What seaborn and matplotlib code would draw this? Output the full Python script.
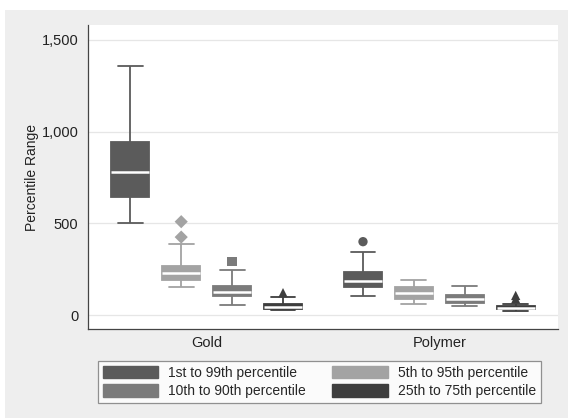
import numpy as np
import pandas as pd
import matplotlib.pyplot as plt
import matplotlib.ticker as mticker
from matplotlib.patches import Patch, Rectangle
import seaborn as sns

# groups and percentile ranges (in drawing order)
groups = ['Gold', 'Polymer']
ranges = ['1st to 99th percentile', '5th to 95th percentile',
          '10th to 90th percentile', '25th to 75th percentile']
colors = ['#5b5b5b', '#a3a3a3', '#7b7b7b', '#3e3e3e']
markers = ['o', 'D', 's', '^']

# five-number summaries per box (lower whisker, q1, median, q3, upper whisker)
gold_lo = [502, 151, 55, 26]
gold_q1 = [643, 191, 102, 35]
gold_med = [781, 227, 124, 44]
gold_q3 = [945, 269, 160, 60]
gold_hi = [1356, 387, 245, 96]

poly_lo = [105, 60, 49, 22]
poly_q1 = [151, 87, 64, 35]
poly_med = [187, 118, 86, 40]
poly_q3 = [233, 151, 111, 47]
poly_hi = [342, 191, 160, 60]

# outside values
out_group = ['Gold', 'Gold', 'Gold', 'Gold', 'Polymer', 'Polymer', 'Polymer']
out_range = [ranges[1], ranges[1], ranges[2], ranges[3], ranges[0], ranges[3], ranges[3]]
out_value = [509, 425, 291, 122, 400, 107, 88]

# build long table: five values per box give exact quartiles with linear interp
rows = []
for g, stats in zip(groups, [(gold_lo, gold_q1, gold_med, gold_q3, gold_hi),
                             (poly_lo, poly_q1, poly_med, poly_q3, poly_hi)]):
    for i, r in enumerate(ranges):
        for s in stats:
            rows.append((g, r, s[i]))
df = pd.DataFrame(rows, columns=['group', 'range', 'value'])

pal = dict(zip(ranges, colors))
box_w = 0.875

sns.set_style('white')
plt.rcParams['font.family'] = ['Liberation Sans', 'DejaVu Sans']

fig = plt.figure(figsize=(5.68, 4.18), dpi=100)
fig.patch.set_facecolor('white')
fig.patches.append(Rectangle((5 / 568, 0), 563 / 568, 408 / 418, transform=fig.transFigure,
                             facecolor='#eeeeee', edgecolor='none', zorder=-10))
ax = fig.add_axes([88 / 568, 1 - 329 / 418, 470 / 568, 304 / 418])
ax.set_facecolor('white')

# one call per range so whiskers take the box colour
for r in ranges:
    sns.boxplot(data=df[df['range'] == r], x='group', y='value', hue='range',
                order=groups, hue_order=ranges, palette=pal, saturation=1,
                dodge=True, width=box_w, gap=0.25, whis=np.inf,
                linecolor=pal[r], linewidth=1.3, capwidths=0.107,
                medianprops=dict(color='white', linewidth=1.8),
                legend=False, ax=ax, zorder=3)

# outlier points at the dodged box positions
odf = pd.DataFrame({'group': out_group, 'range': out_range, 'value': out_value})
slot = box_w / len(ranges)
odf['xpos'] = [groups.index(g) - box_w / 2 + slot * (ranges.index(r) + 0.5)
               for g, r in zip(odf['group'], odf['range'])]
sns.scatterplot(data=odf, x='xpos', y='value', hue='range', style='range',
                hue_order=ranges, style_order=ranges, palette=pal,
                markers=dict(zip(ranges, markers)), s=45, edgecolor='none',
                legend=False, ax=ax, zorder=4)

ax.set_xlim(-0.51, 1.51)
ax.set_ylim(-76, 1581)
ax.set_xticks([0, 1])
ax.set_xticklabels(groups)
ax.set_yticks([0, 500, 1000, 1500])
ax.yaxis.set_major_formatter(mticker.StrMethodFormatter('{x:,.0f}'))
ax.tick_params(axis='y', length=4, width=0.8, color='#444444', labelsize=10.5,
               labelcolor='#222222', pad=3)
ax.tick_params(axis='x', length=0, labelsize=10.5, labelcolor='#222222', pad=5)
ax.grid(axis='y', color='#e6e6e6', linewidth=0.9, zorder=0)
ax.set_axisbelow(True)
ax.set_xlabel('')
ax.set_ylabel('Percentile Range', fontsize=10, color='#222222', labelpad=2)
for side in ['top', 'right']:
    ax.spines[side].set_visible(False)
for side in ['left', 'bottom']:
    ax.spines[side].set_color('#444444')
    ax.spines[side].set_linewidth(0.9)

# legend below the plot, rows: 1st-99th / 5th-95th, 10th-90th / 25th-75th
leg_order = [0, 2, 1, 3]
handles = [Patch(facecolor=colors[i], edgecolor=colors[i]) for i in leg_order]
labels = [ranges[i] for i in leg_order]
leg = fig.legend(handles, labels, ncol=2, loc='lower left',
                 bbox_to_anchor=(98 / 568, 1 - 403 / 418),
                 borderaxespad=0, fancybox=False, frameon=True, fontsize=10,
                 handlelength=4.0, handleheight=1.0, handletextpad=0.7,
                 labelspacing=0.3, borderpad=0.35, columnspacing=1.9)
leg.get_frame().set_edgecolor('#777777')
leg.get_frame().set_linewidth(0.9)
leg.get_frame().set_facecolor('white')

fig.savefig('out.png', dpi=100, facecolor=fig.get_facecolor())
